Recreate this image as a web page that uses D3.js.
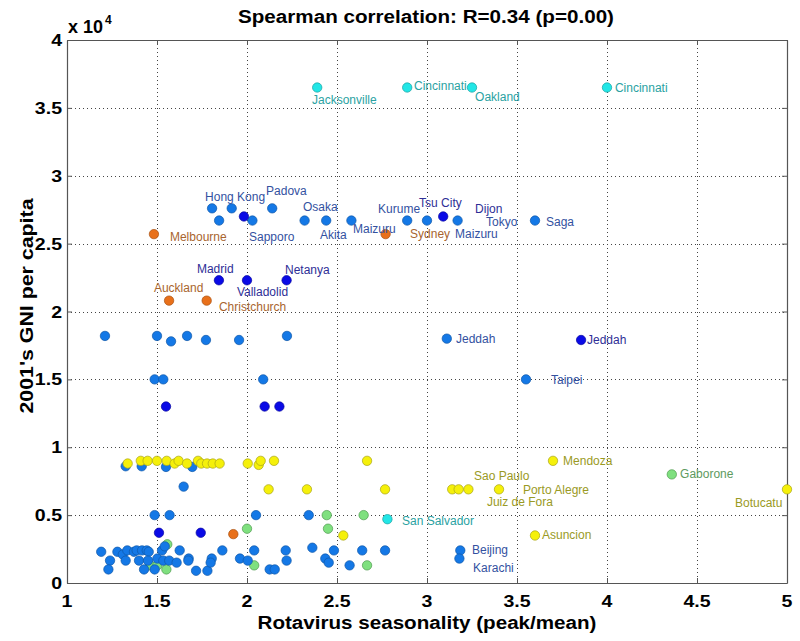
<!DOCTYPE html>
<html>
<head>
<meta charset="utf-8">
<script src="https://cdn.jsdelivr.net/npm/d3@7"></script>
<style>
  html, body { margin: 0; padding: 0; background: #fff; }
  svg { display: block; }
</style>
</head>
<body>
<div id="chart"></div>
<script>
// ---------------- DATA ----------------
const titleText = "Spearman correlation: R=0.34 (p=0.00)";
const xLabelText = "Rotavirus seasonality (peak/mean)";
const yLabelText = "2001's GNI per capita";
const xTickValues = [1, 1.5, 2, 2.5, 3, 3.5, 4, 4.5, 5];
const xTickLabels = ["1", "1.5", "2", "2.5", "3", "3.5", "4", "4.5", "5"];
const yTickValues = [0, 5000, 10000, 15000, 20000, 25000, 30000, 35000, 40000];
const yTickLabels = ["0", "0.5", "1", "1.5", "2", "2.5", "3", "3.5", "4"];

// series: [seasonality, GNI per capita]
const greenPoints = [
  [4.36, 8000], [2.0, 4000], [2.443, 5000], [2.45, 4000], [2.648, 5000],
  [1.461, 1300], [1.502, 1300], [1.552, 1000], [1.557, 2850], [2.04, 1300], [2.667, 1300]
];
const bluePoints = [
  [1.806, 27600], [1.915, 27600], [1.845, 26700], [2.03, 26700], [2.14, 27600],
  [2.32, 26700], [2.44, 26700], [2.58, 26700], [2.89, 26700], [3.0, 26700],
  [3.17, 26700], [3.6, 26700],
  [1.211, 18200], [1.5, 18200], [1.578, 17800], [1.667, 18200], [1.772, 17900],
  [1.956, 17900], [2.222, 18200], [3.11, 18000],
  [1.487, 15000], [1.535, 15000], [2.09, 15000], [3.55, 15000],
  [1.326, 8600], [1.415, 8600], [1.55, 8550], [1.696, 8550], [1.648, 7100],
  [1.487, 5000], [1.57, 5000], [2.05, 5000], [2.343, 5000],
  [1.19, 2300], [1.239, 1650], [1.23, 1000], [1.28, 2300], [1.31, 2100],
  [1.335, 2400], [1.326, 1650], [1.372, 2300], [1.387, 2400], [1.417, 2400],
  [1.443, 2400], [1.454, 2300], [1.40, 1650], [1.428, 1000], [1.45, 1650],
  [1.487, 1000], [1.502, 1800], [1.535, 1650], [1.528, 2400], [1.543, 2700],
  [1.568, 1650], [1.609, 1500], [1.626, 2400], [1.676, 1800], [1.674, 1650],
  [1.717, 900], [1.78, 900], [1.804, 1800], [1.798, 1500], [1.863, 2400],
  [1.961, 1800], [2.004, 1650], [2.04, 2400], [2.126, 1000], [2.154, 1000],
  [2.215, 2400], [2.22, 1650], [2.363, 2600], [2.435, 1800], [2.454, 1500],
  [2.483, 2400], [2.57, 1300], [2.64, 2400], [2.767, 2400], [3.185, 2400], [3.18, 1800]
];
const yellowPoints = [
  [1.337, 8800], [1.41, 9000], [1.448, 9000], [1.5, 9000], [1.554, 9000],
  [1.598, 8800], [1.62, 9000], [1.667, 8800], [1.728, 9000], [1.746, 8800],
  [1.778, 8800], [1.81, 8800], [1.848, 8800], [2.004, 8800], [2.065, 8700],
  [2.076, 9000], [2.15, 9000], [2.667, 9000],
  [2.12, 6900], [2.333, 6900], [2.767, 6900], [3.14, 6900], [3.176, 6900],
  [3.23, 6900], [3.4, 6900], [3.7, 9000], [3.6, 3500], [5.0, 6900], [2.535, 3500]
];
const orangePoints = [
  [1.483, 25700], [2.77, 25700], [1.567, 20800], [1.776, 20800], [1.924, 3600]
];
const darkBluePoints = [
  [1.983, 27000], [3.09, 27000], [1.844, 22300], [2.0, 22300], [2.22, 22300],
  [3.856, 17900], [1.55, 13000], [2.098, 13000], [2.18, 13000], [1.511, 3700], [1.743, 3700]
];
const cyanPoints = [
  [2.39, 36500], [2.89, 36500], [3.25, 36500], [4.0, 36500], [2.78, 4700]
];

// city labels (text anchored at data coordinates, left aligned, vertically centred)
const labelText = [
  "Jacksonville", "Cincinnati", "Oakland", "Cincinnati", "San Salvador",
  "Hong Kong", "Padova", "Osaka", "Sapporo", "Akita", "Maizuru", "Kurume",
  "Maizuru", "Tokyo", "Saga", "Jeddah", "Taipei", "Beijing", "Karachi",
  "Tsu City", "Dijon", "Madrid", "Netanya", "Valladolid", "Jeddah",
  "Melbourne", "Sydney", "Auckland", "Christchurch",
  "Mendoza", "Sao Paulo", "Porto Alegre", "Juiz de Fora", "Botucatu", "Asuncion",
  "Gaborone"
];
const labelX = [
  2.361, 2.928, 3.267, 4.044, 2.861,
  1.767, 2.106, 2.311, 2.011, 2.406, 2.589, 2.728,
  3.156, 3.328, 3.661, 3.161, 3.689, 3.25, 3.256,
  2.956, 3.267, 1.722, 2.211, 1.944, 3.889,
  1.572, 2.906, 1.483, 1.844,
  3.756, 3.261, 3.533, 3.333, 4.711, 3.639,
  4.406
];
const labelY = [
  35580, 36610, 35800, 36460, 4570,
  28430, 28880, 27700, 25490, 25640, 26080, 27550,
  25710, 26590, 26590, 17970, 14950, 2430, 1100,
  27990, 27550, 23130, 23060, 21440, 17900,
  25490, 25710, 21730, 20330,
  8990, 7880, 6850, 5970, 5890, 3540,
  8030
];
const labelGroup = [
  "cyan", "cyan", "cyan", "cyan", "cyan",
  "blue", "blue", "blue", "blue", "blue", "blue", "blue",
  "blue", "blue", "blue", "blue", "blue", "blue", "blue",
  "darkblue", "darkblue", "darkblue", "darkblue", "darkblue", "darkblue",
  "orange", "orange", "orange", "orange",
  "yellow", "yellow", "yellow", "yellow", "yellow", "yellow",
  "green"
];

// ---------------- STYLE ----------------
const W = 800, H = 641;
const plot = { left: 67, right: 787, top: 40, bottom: 583 };
const markerStyle = {
  green:    { fill: "#7fe07f", stroke: "#4f9a4f" },
  blue:     { fill: "#1478e6", stroke: "#1058a8" },
  yellow:   { fill: "#f5f00a", stroke: "#a8a318" },
  orange:   { fill: "#e8701a", stroke: "#a85010" },
  darkblue: { fill: "#0a0ae6", stroke: "#0808a0" },
  cyan:     { fill: "#22e6e6", stroke: "#18a0a0" }
};
const labelColor = {
  blue: "#33519f", darkblue: "#2e2e96", orange: "#a8652e",
  yellow: "#9a9a24", cyan: "#2aa2a2", green: "#5e9a5e"
};
const boldFont = "'Liberation Sans', Arial, Helvetica, sans-serif";
const stretch = 1.15;

// ---------------- DRAW ----------------
const svg = d3.select("#chart").append("svg")
  .attr("width", W).attr("height", H)
  .style("background", "#fff");

const x = d3.scaleLinear().domain([1, 5]).range([plot.left, plot.right]);
const y = d3.scaleLinear().domain([0, 40000]).range([plot.bottom, plot.top]);

// grid
const grid = svg.append("g").attr("stroke", "#444").attr("stroke-width", 1)
  .attr("stroke-dasharray", "1,3");
grid.selectAll("line.vx").data(xTickValues.slice(1, -1)).join("line")
  .attr("x1", d => Math.round(x(d)) + 0.5).attr("x2", d => Math.round(x(d)) + 0.5)
  .attr("y1", plot.top).attr("y2", plot.bottom);
grid.selectAll("line.hy").data(yTickValues.slice(1, -1)).join("line")
  .attr("y1", d => Math.round(y(d)) + 0.5).attr("y2", d => Math.round(y(d)) + 0.5)
  .attr("x1", plot.left).attr("x2", plot.right);

// axes via d3 axis (inward ticks), labels drawn separately
const axB = svg.append("g").attr("transform", `translate(0,${plot.bottom})`)
  .call(d3.axisBottom(x).tickValues(xTickValues).tickSizeInner(-5).tickSizeOuter(0).tickFormat(""));
const axT = svg.append("g").attr("transform", `translate(0,${plot.top})`)
  .call(d3.axisTop(x).tickValues(xTickValues).tickSizeInner(-5).tickSizeOuter(0).tickFormat(""));
const axL = svg.append("g").attr("transform", `translate(${plot.left},0)`)
  .call(d3.axisLeft(y).tickValues(yTickValues).tickSizeInner(-5).tickSizeOuter(0).tickFormat(""));
const axR = svg.append("g").attr("transform", `translate(${plot.right},0)`)
  .call(d3.axisRight(y).tickValues(yTickValues).tickSizeInner(-5).tickSizeOuter(0).tickFormat(""));
[axB, axT, axL, axR].forEach(a => {
  a.selectAll("path.domain").attr("stroke", "#555").attr("stroke-width", 1.2);
  a.selectAll(".tick line").attr("stroke", "#555");
});

// markers
const layers = [
  ["green", greenPoints], ["blue", bluePoints], ["yellow", yellowPoints],
  ["orange", orangePoints], ["darkblue", darkBluePoints], ["cyan", cyanPoints]
];
layers.forEach(([key, pts]) => {
  svg.append("g").selectAll("circle").data(pts).join("circle")
    .attr("cx", d => x(d[0])).attr("cy", d => y(d[1])).attr("r", 4.7)
    .attr("fill", markerStyle[key].fill)
    .attr("stroke", markerStyle[key].stroke).attr("stroke-width", 0.7);
});

// city labels
svg.append("g").selectAll("text").data(labelText).join("text")
  .attr("x", (d, i) => x(labelX[i]))
  .attr("y", (d, i) => y(labelY[i]))
  .attr("dy", "0.36em")
  .attr("font-family", "Arial, 'Liberation Sans', Helvetica, sans-serif")
  .attr("font-size", 12)
  .attr("fill", (d, i) => labelColor[labelGroup[i]])
  .text(d => d);

// stretched bold text helper
function boldText(tx, ty, str, size, anchor, sx) {
  return svg.append("g").attr("transform", `translate(${tx},${ty}) scale(${sx},1)`)
    .append("text").attr("text-anchor", anchor)
    .attr("font-family", boldFont).attr("font-weight", "bold")
    .attr("font-size", size).attr("fill", "#000").text(str);
}

// tick labels
xTickValues.forEach((v, i) => boldText(x(v), 607, xTickLabels[i], 17, "middle", stretch));
yTickValues.forEach((v, i) => boldText(62, y(v) + 6, yTickLabels[i], 17, "end", stretch));

// exponent
svg.append("text").attr("x", 68).attr("y", 33)
  .attr("font-family", boldFont).attr("font-weight", "bold").attr("font-size", 18)
  .attr("textLength", 35).attr("lengthAdjust", "spacingAndGlyphs")
  .text("x 10");
svg.append("text").attr("x", 105).attr("y", 24)
  .attr("font-family", boldFont).attr("font-weight", "bold").attr("font-size", 12)
  .text("4");

// title
svg.append("text").attr("x", 426).attr("y", 23).attr("text-anchor", "middle")
  .attr("font-family", boldFont).attr("font-weight", "bold").attr("font-size", 18)
  .attr("textLength", 376).attr("lengthAdjust", "spacingAndGlyphs")
  .text(titleText);

// x label
svg.append("text").attr("x", 427).attr("y", 629).attr("text-anchor", "middle")
  .attr("font-family", boldFont).attr("font-weight", "bold").attr("font-size", 18)
  .attr("textLength", 339).attr("lengthAdjust", "spacingAndGlyphs")
  .text(xLabelText);

// y label
svg.append("text").attr("transform", "translate(33,306) rotate(-90)")
  .attr("text-anchor", "middle")
  .attr("font-family", boldFont).attr("font-weight", "bold").attr("font-size", 18)
  .attr("textLength", 215).attr("lengthAdjust", "spacingAndGlyphs")
  .text(yLabelText);
</script>
</body>
</html>
